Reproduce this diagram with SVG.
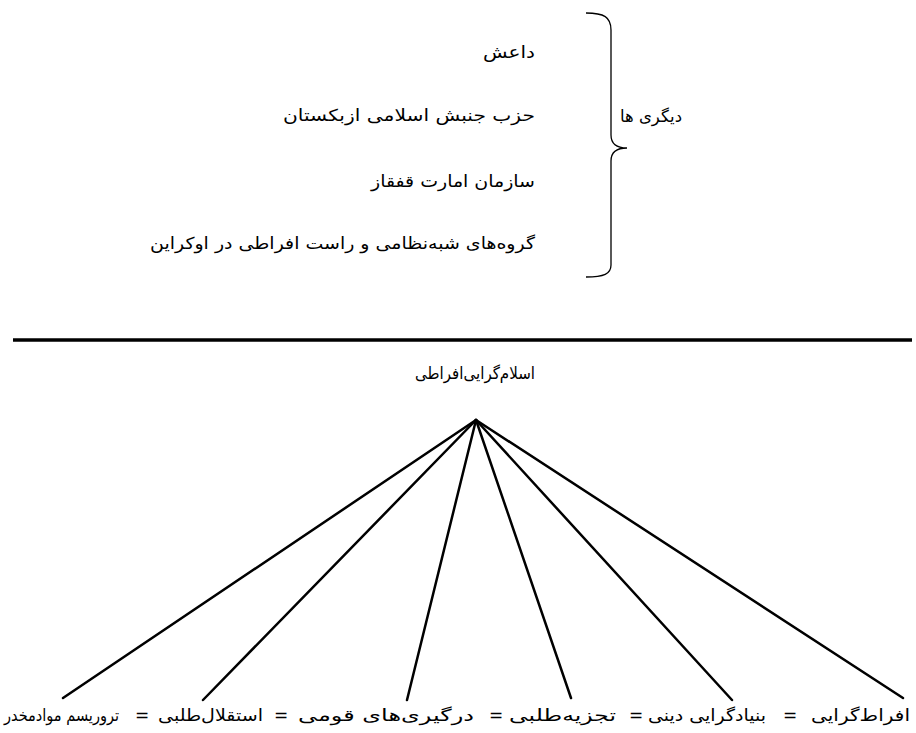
<svg xmlns="http://www.w3.org/2000/svg" width="916" height="733" viewBox="0 0 916 733">
<style>
.t{font-family:"DejaVu Sans",sans-serif;font-size:16.5px;fill:#000;direction:rtl;unicode-bidi:embed}
.eq{font-family:"DejaVu Sans",sans-serif;font-size:17px;fill:#000}
.c{stroke:#000;stroke-width:2.5;fill:none;stroke-linecap:round}
.br{stroke:#000;stroke-width:1.3;fill:none}
</style>
<rect width="916" height="733" fill="#fff"/>
<g id="list">
<g id="n-daesh"><text class="t" x="535" y="58" text-anchor="start" textLength="52" lengthAdjust="spacingAndGlyphs">داعش</text></g>
<g id="n-uzb"><text class="t" x="535" y="121" text-anchor="start" textLength="252" lengthAdjust="spacingAndGlyphs">حزب جنبش اسلامی ازبکستان</text></g>
<g id="n-cauc"><text class="t" x="535" y="187" text-anchor="start" textLength="164" lengthAdjust="spacingAndGlyphs">سازمان امارت قفقاز</text></g>
<g id="n-ukr"><text class="t" x="535" y="249" text-anchor="start" textLength="385" lengthAdjust="spacingAndGlyphs">گروه‌های شبه‌نظامی و راست افراطی در اوکراین</text></g>
</g>
<g id="brace">
<path class="br" d="M586,13 C604,13 611,17 611,30 L611,135 C611,144 616,148 627,148 C616,148 611,152 611,161 L611,265 C611,274 604,277 586,277"/>
</g>
<g id="n-others"><text class="t" x="682" y="122" text-anchor="start" textLength="62" lengthAdjust="spacingAndGlyphs">دیگری ها</text></g>
<line x1="13" y1="340" x2="912" y2="340" stroke="#000" stroke-width="3.5"/>
<g id="n-root"><text class="t" x="535" y="379" text-anchor="start" font-size="18" textLength="120" lengthAdjust="spacingAndGlyphs">اسلام‌گرایی‌افراطی</text></g>
<g id="connectors">
<line class="c" x1="476" y1="420" x2="63" y2="698"/>
<line class="c" x1="476" y1="420" x2="203" y2="700"/>
<line class="c" x1="476" y1="420" x2="407" y2="700"/>
<line class="c" x1="476" y1="420" x2="571" y2="698"/>
<line class="c" x1="476" y1="420" x2="732" y2="700"/>
<line class="c" x1="476" y1="420" x2="903" y2="698"/>
</g>
<g id="bottom">
<g id="n-b1"><text class="t" x="910" y="721" text-anchor="start" textLength="99" lengthAdjust="spacingAndGlyphs">افراط‌گرایی</text></g>
<text class="eq" x="790" y="721" text-anchor="middle">=</text>
<g id="n-b2"><text class="t" x="766" y="721" text-anchor="start" textLength="118" lengthAdjust="spacingAndGlyphs">بنیادگرایی دینی</text></g>
<text class="eq" x="636" y="721" text-anchor="middle">=</text>
<g id="n-b3"><text class="t" x="616" y="721" text-anchor="start" textLength="107" lengthAdjust="spacingAndGlyphs">تجزیه‌طلبی</text></g>
<text class="eq" x="496" y="721" text-anchor="middle">=</text>
<g id="n-b4"><text class="t" x="474" y="721" text-anchor="start" textLength="176" lengthAdjust="spacingAndGlyphs">درگیری‌های قومی</text></g>
<text class="eq" x="281" y="721" text-anchor="middle">=</text>
<g id="n-b5"><text class="t" x="263" y="721" text-anchor="start" textLength="105" lengthAdjust="spacingAndGlyphs">استقلال‌طلبی</text></g>
<text class="eq" x="142" y="721" text-anchor="middle">=</text>
<g id="n-b6"><text class="t" x="119" y="721" text-anchor="start" textLength="115" lengthAdjust="spacingAndGlyphs">تروریسم موادمخدر</text></g>
</g>
</svg>
